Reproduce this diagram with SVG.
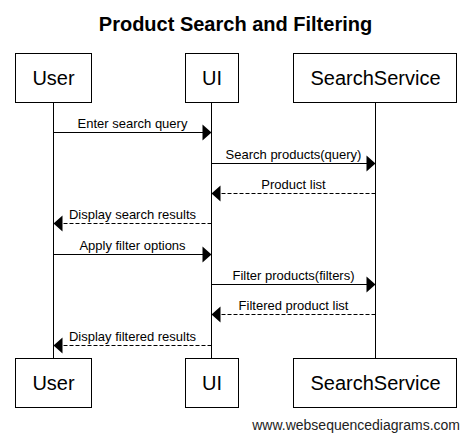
<svg xmlns="http://www.w3.org/2000/svg" width="471" height="442" viewBox="0 0 471 442">
<style>
.box{fill:#fff;stroke:#000;stroke-width:1}
.actor{font-family:"Liberation Sans",Arial,sans-serif;font-size:20px;fill:#000;text-anchor:middle}
.life{stroke:#000;stroke-width:1}
.msg{stroke:#000;stroke-width:1;fill:none}
.ret{stroke:#000;stroke-width:1;fill:none;stroke-dasharray:4,2}
.lbl{font-family:"Liberation Sans",Arial,sans-serif;font-size:13px;fill:#000;text-anchor:middle}
.head{fill:#000}
</style>
<rect width="471" height="442" fill="#fff"/>
<text x="235.5" y="31" font-family="'Liberation Sans',Arial,sans-serif" font-size="20" font-weight="bold" text-anchor="middle">Product Search and Filtering</text>
<g id="lifelines">
<line class="life" x1="53.5" y1="102" x2="53.5" y2="358"/>
<line class="life" x1="211.5" y1="102" x2="211.5" y2="358"/>
<line class="life" x1="375.5" y1="102" x2="375.5" y2="358"/>
</g>
<g id="user">
<rect class="box" x="15.5" y="53.5" width="76" height="49"/>
<text class="actor" x="53.5" y="85">User</text>
<rect class="box" x="15.5" y="358.5" width="76" height="49"/>
<text class="actor" x="53.5" y="390">User</text>
</g>
<g id="ui">
<rect class="box" x="185.5" y="53.5" width="53" height="49"/>
<text class="actor" x="212" y="85">UI</text>
<rect class="box" x="185.5" y="358.5" width="53" height="49"/>
<text class="actor" x="212" y="390">UI</text>
</g>
<g id="searchservice">
<rect class="box" x="293.5" y="53.5" width="163" height="49"/>
<text class="actor" x="375.5" y="85">SearchService</text>
<rect class="box" x="293.5" y="358.5" width="163" height="49"/>
<text class="actor" x="375.5" y="390">SearchService</text>
</g>
<g id="connectors">
<line class="msg" x1="53.5" y1="132.5" x2="203" y2="132.5"/>
<polygon class="head" points="211.5,132.5 202.5,124.5 202.5,140.5"/>
<text class="lbl" x="132.5" y="128">Enter search query</text>
<line class="msg" x1="211.5" y1="163.5" x2="367" y2="163.5"/>
<polygon class="head" points="375.5,163.5 366.5,155.5 366.5,171.5"/>
<text class="lbl" x="293.5" y="159">Search products(query)</text>
<line class="ret" x1="375.5" y1="193.5" x2="220" y2="193.5"/>
<polygon class="head" points="211.5,193.5 220.5,185.5 220.5,201.5"/>
<text class="lbl" x="293.5" y="189">Product list</text>
<line class="ret" x1="211.5" y1="223.5" x2="62" y2="223.5"/>
<polygon class="head" points="53.5,223.5 62.5,215.5 62.5,231.5"/>
<text class="lbl" x="132.5" y="219">Display search results</text>
<line class="msg" x1="53.5" y1="254.5" x2="203" y2="254.5"/>
<polygon class="head" points="211.5,254.5 202.5,246.5 202.5,262.5"/>
<text class="lbl" x="132.5" y="250">Apply filter options</text>
<line class="msg" x1="211.5" y1="284.5" x2="367" y2="284.5"/>
<polygon class="head" points="375.5,284.5 366.5,276.5 366.5,292.5"/>
<text class="lbl" x="293.5" y="280">Filter products(filters)</text>
<line class="ret" x1="375.5" y1="314.5" x2="220" y2="314.5"/>
<polygon class="head" points="211.5,314.5 220.5,306.5 220.5,322.5"/>
<text class="lbl" x="293.5" y="310">Filtered product list</text>
<line class="ret" x1="211.5" y1="345.5" x2="62" y2="345.5"/>
<polygon class="head" points="53.5,345.5 62.5,337.5 62.5,353.5"/>
<text class="lbl" x="132.5" y="341">Display filtered results</text>
</g>
<text x="460" y="430" font-family="'Liberation Sans',Arial,sans-serif" font-size="14" fill="#222" text-anchor="end">www.websequencediagrams.com</text>
</svg>
